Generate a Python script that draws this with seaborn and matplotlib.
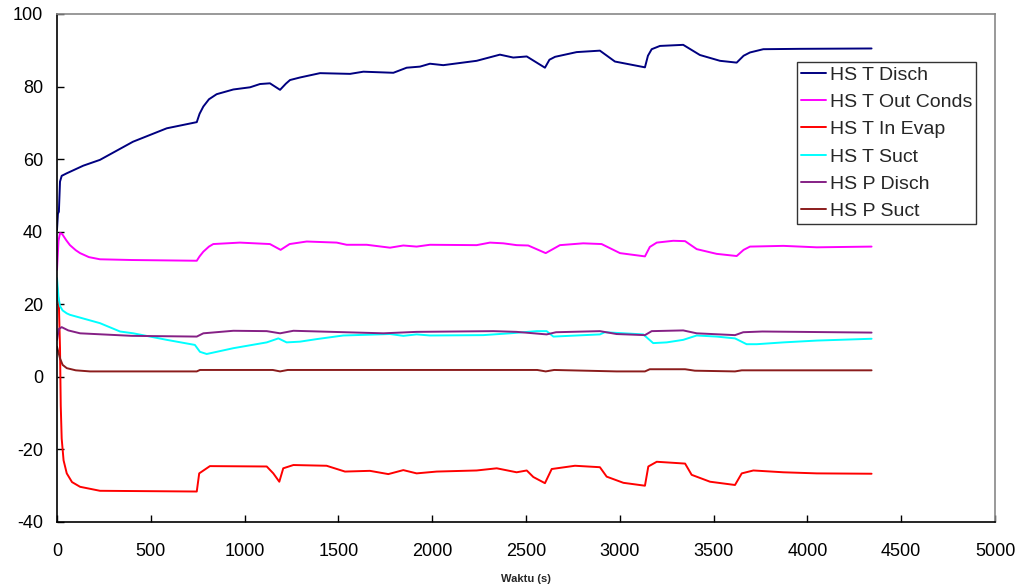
import numpy as np
import pandas as pd
import matplotlib
matplotlib.use("Agg")
import matplotlib.pyplot as plt
import seaborn as sns

# ---- data ----
t_disch_x = [0, 5, 10, 16, 25, 52, 140, 229, 405, 585, 745, 760, 780, 810, 851, 940, 1029, 1082, 1135, 1189,
             1220, 1242, 1295, 1402, 1562, 1633, 1793, 1864, 1935, 1988, 2059, 2237, 2361, 2432, 2504,
             2601, 2625, 2655, 2770, 2894, 2974, 3134, 3150, 3170, 3214, 3338, 3427, 3534, 3623, 3660,
             3694, 3765, 3960, 4342]
t_disch_y = [40.5, 45.0, 45.5, 53.8, 55.4, 56.1, 58.2, 59.8, 64.8, 68.5, 70.2, 72.5, 74.5, 76.5, 77.9,
             79.2, 79.8, 80.7, 80.9, 79.1, 80.8, 81.8, 82.5, 83.7, 83.5, 84.1, 83.8, 85.2, 85.5, 86.3,
             85.9, 87.1, 88.8, 88.0, 88.3, 85.2, 87.4, 88.2, 89.5, 89.9, 86.9, 85.3, 88.5, 90.3, 91.2,
             91.5, 88.7, 87.1, 86.6, 88.5, 89.4, 90.3, 90.4, 90.5]

t_cond_x = [0, 8, 16, 27, 50, 69, 100, 123, 170, 229, 400, 745, 760, 780, 810, 833, 975, 1135, 1192, 1240,
            1331, 1491, 1544, 1651, 1775, 1846, 1917, 1988, 2237, 2308, 2379, 2450, 2512, 2605, 2681,
            2805, 2903, 3001, 3134, 3160, 3197, 3285, 3348, 3410, 3516, 3623, 3660, 3694, 3872,
            4050, 4342]
t_cond_y = [29.5, 37.5, 39.6, 39.4, 37.6, 36.3, 34.9, 34.1, 33.0, 32.4, 32.2, 32.0, 33.2, 34.5, 35.9,
            36.6, 37.0, 36.6, 35.0, 36.6, 37.3, 37.0, 36.4, 36.4, 35.6, 36.2, 35.9, 36.4, 36.3, 37.0,
            36.8, 36.3, 36.2, 34.1, 36.3, 36.8, 36.6, 34.1, 33.2, 35.8, 37.0, 37.5, 37.4, 35.2, 33.9,
            33.3, 35.0, 35.9, 36.1, 35.7, 35.9]

t_evap_x = [0, 10, 16, 20, 25, 35, 52, 80, 123, 229, 745, 758, 815, 1118, 1153, 1185, 1206, 1260,
            1437, 1535, 1668, 1766, 1846, 1917, 2024, 2237, 2344, 2450, 2504, 2539, 2601, 2637,
            2761, 2894, 2930, 3019, 3134, 3152, 3197, 3348, 3383, 3481, 3614, 3650, 3712, 3872,
            4050, 4342]
t_evap_y = [25.0, 20.0, 8.0, -8.0, -17.0, -23.0, -26.6, -29.0, -30.3, -31.4, -31.6, -26.6, -24.6,
            -24.7, -26.6, -28.9, -25.2, -24.3, -24.5, -26.1, -25.9, -26.8, -25.7, -26.6, -26.1,
            -25.8, -25.2, -26.3, -25.8, -27.6, -29.3, -25.4, -24.5, -24.9, -27.5, -29.2, -30.0,
            -24.7, -23.4, -23.9, -27.0, -28.9, -29.8, -26.6, -25.8, -26.3, -26.6, -26.7]

t_suct_x = [0, 8, 16, 30, 52, 69, 229, 336, 407, 585, 735, 762, 798, 940, 1118, 1180, 1224, 1295, 1384,
            1526, 1775, 1846, 1917, 1988, 2272, 2414, 2557, 2610, 2646, 2894, 2920, 3125, 3178,
            3250, 3338, 3410, 3516, 3614, 3676, 3730, 3872, 4050, 4342]
t_suct_y = [27.2, 22.0, 19.5, 18.3, 17.5, 17.1, 14.8, 12.5, 12.0, 10.2, 8.8, 6.9, 6.3, 7.9, 9.5, 10.6,
            9.5, 9.7, 10.4, 11.4, 11.8, 11.3, 11.7, 11.4, 11.5, 12.0, 12.6, 12.6, 11.1, 11.7, 12.3,
            11.7, 9.3, 9.5, 10.2, 11.4, 11.1, 10.6, 9.0, 9.0, 9.5, 10.0, 10.5]

p_disch_x = [0, 10, 25, 60, 123, 400, 745, 780, 940, 1118, 1189, 1260, 1740, 1917, 2326, 2450, 2610,
             2660, 2894, 2983, 3134, 3170, 3338, 3410, 3614, 3658, 3760, 4342]
p_disch_y = [10.2, 13.2, 13.7, 12.8, 12.0, 11.3, 11.1, 12.0, 12.7, 12.6, 12.0, 12.7, 12.0, 12.4,
             12.6, 12.4, 11.7, 12.3, 12.6, 11.8, 11.5, 12.6, 12.8, 12.0, 11.5, 12.3, 12.5, 12.2]

p_suct_x = [0, 16, 30, 52, 100, 176, 745, 762, 1150, 1189, 1230, 2560, 2605, 2650, 2983, 3134, 3160,
            3348, 3400, 3614, 3650, 4342]
p_suct_y = [8.3, 5.1, 3.3, 2.4, 1.8, 1.5, 1.5, 1.9, 1.9, 1.5, 1.9, 1.9, 1.5, 1.9, 1.5, 1.5, 2.1,
            2.1, 1.7, 1.5, 1.8, 1.8]

series = [
    ("HS T Disch", t_disch_x, t_disch_y, "#000080"),
    ("HS T Out Conds", t_cond_x, t_cond_y, "#FF00FF"),
    ("HS T In Evap", t_evap_x, t_evap_y, "#FF0000"),
    ("HS T Suct", t_suct_x, t_suct_y, "#00FFFF"),
    ("HS P Disch", p_disch_x, p_disch_y, "#852085"),
    ("HS P Suct", p_suct_x, p_suct_y, "#8B1C1C"),
]

rows = []
for name, xs, ys, _ in series:
    for i, (x, y) in enumerate(zip(xs, ys)):
        rows.append({"Waktu (s)": x, "val": y, "series": name, "order": i})
df = pd.DataFrame(rows)
palette = {name: c for name, _, _, c in series}
order = [s[0] for s in series]

sns.set_style("white")
plt.rcParams["font.family"] = ["Liberation Sans", "DejaVu Sans"]
plt.rcParams["axes.unicode_minus"] = False

fig = plt.figure(figsize=(10.21, 5.86), dpi=100)
ax = fig.add_axes([57 / 1021, 1 - 522 / 586, (995 - 57) / 1021, (522 - 14) / 586])

sns.lineplot(data=df, x="Waktu (s)", y="val", hue="series", hue_order=order, palette=palette,
             estimator=None, sort=False, units="series", linewidth=1.4, ax=ax, legend=True)

ax.set_xlim(0, 5000)
ax.set_ylim(-40, 100)
ax.set_xticks(np.arange(0, 5001, 500))
ax.set_yticks(np.arange(-40, 101, 20))
ax.set_ylabel("")
ax.set_xlabel("Waktu (s)", fontsize=8, fontweight="bold", labelpad=10)
ax.tick_params(axis="both", direction="in", length=5, width=1, colors="black",
               labelsize=13, bottom=True, left=True)
ax.tick_params(axis="y", pad=10)
ax.tick_params(axis="x", pad=15)

for side in ["left", "bottom"]:
    ax.spines[side].set_color("black")
    ax.spines[side].set_linewidth(1.2)
for side in ["top", "right"]:
    ax.spines[side].set_color("#888888")
    ax.spines[side].set_linewidth(1.2)
    ax.spines[side].set_visible(True)

handles, labels = ax.get_legend_handles_labels()
leg = ax.legend(handles, labels, loc="upper left",
                bbox_to_anchor=((797 - 57) / 938, (522 - 62) / 508),
                fontsize=14, frameon=True, fancybox=False, borderaxespad=0,
                borderpad=0.2, handlelength=1.3, handletextpad=0.2, labelspacing=0.5)
leg.get_frame().set_edgecolor("black")
leg.get_frame().set_linewidth(1.0)
for h in leg.get_lines():
    h.set_linewidth(1.4)

fig.savefig("out.png", dpi=100, facecolor="white")
